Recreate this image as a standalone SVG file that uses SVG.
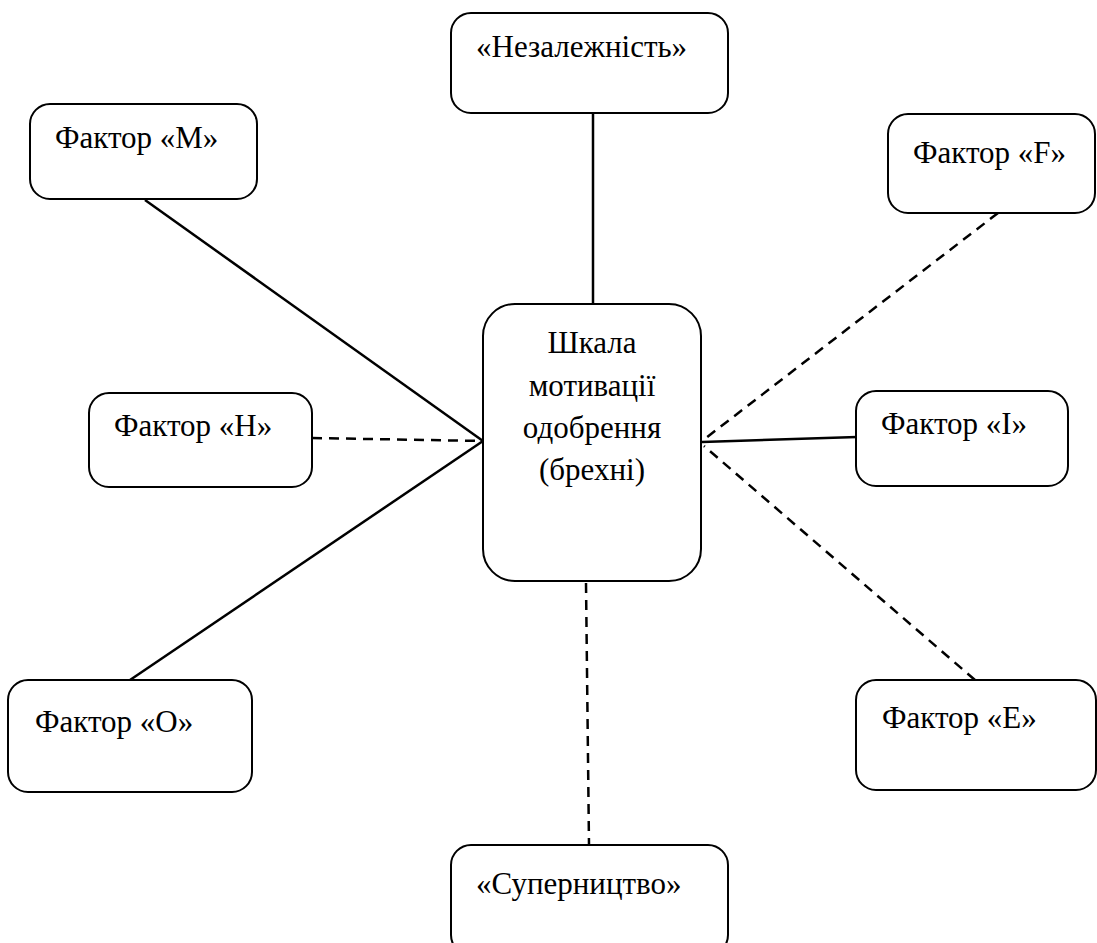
<svg xmlns="http://www.w3.org/2000/svg" width="1097" height="943" viewBox="0 0 1097 943">
<style>
.box{fill:#fff;stroke:#000;stroke-width:2}
.s{stroke:#000;stroke-width:2.5;fill:none}
.d{stroke:#000;stroke-width:2.5;fill:none;stroke-dasharray:10 7}
</style>
<defs>
<marker id="arr" viewBox="0 0 10 10" refX="1" refY="5" markerWidth="10" markerHeight="10" markerUnits="userSpaceOnUse" orient="auto-start-reverse">
<path d="M9,1 L1,5 L9,9" fill="none" stroke="#000" stroke-width="1.8"/>
</marker>
</defs>
<g id="connectors">
<line class="s" x1="593" y1="113" x2="593" y2="304"/>
<line class="s" x1="145" y1="200" x2="483" y2="441"/>
<line class="d" x1="312" y1="438" x2="483" y2="441"/>
<line class="s" x1="130" y1="680" x2="483" y2="441"/>
<line class="d" x1="586" y1="583" x2="589" y2="845"/>
<line class="d" x1="998" y1="213" x2="702" y2="441"/>
<line class="s" x1="857" y1="437" x2="702" y2="442" marker-end="url(#arr)"/>
<line class="d" x1="975" y1="680" x2="704" y2="446"/>
</g>
<g font-family="Liberation Serif, Times New Roman, serif" font-size="31" fill="#000">
<g id="center">
<rect class="box" x="483" y="304" width="218" height="277" rx="32"/>
<text x="592" y="353" text-anchor="middle">Шкала</text>
<text x="592" y="396" text-anchor="middle">мотивації</text>
<text x="592" y="438" text-anchor="middle">одобрення</text>
<text x="592" y="480" text-anchor="middle">(брехні)</text>
</g>
<g id="nezalezhnist">
<rect class="box" x="451" y="13" width="277" height="100" rx="20"/>
<text x="476" y="57">«Незалежність»</text>
</g>
<g id="factor-m">
<rect class="box" x="30" y="104" width="227" height="95" rx="20"/>
<text x="55" y="148">Фактор «M»</text>
</g>
<g id="factor-f">
<rect class="box" x="888" y="114" width="207" height="99" rx="20"/>
<text x="913" y="163">Фактор «F»</text>
</g>
<g id="factor-h">
<rect class="box" x="89" y="393" width="223" height="94" rx="20"/>
<text x="114" y="436">Фактор «H»</text>
</g>
<g id="factor-i">
<rect class="box" x="856" y="391" width="212" height="95" rx="20"/>
<text x="881" y="434">Фактор «I»</text>
</g>
<g id="factor-o">
<rect class="box" x="8" y="680" width="244" height="112" rx="20"/>
<text x="35" y="732">Фактор «O»</text>
</g>
<g id="factor-e">
<rect class="box" x="856" y="680" width="240" height="110" rx="20"/>
<text x="882" y="728">Фактор «E»</text>
</g>
<g id="supernytstvo">
<rect class="box" x="451" y="845" width="277" height="110" rx="20"/>
<text x="476" y="894">«Суперництво»</text>
</g>
</g>
</svg>
